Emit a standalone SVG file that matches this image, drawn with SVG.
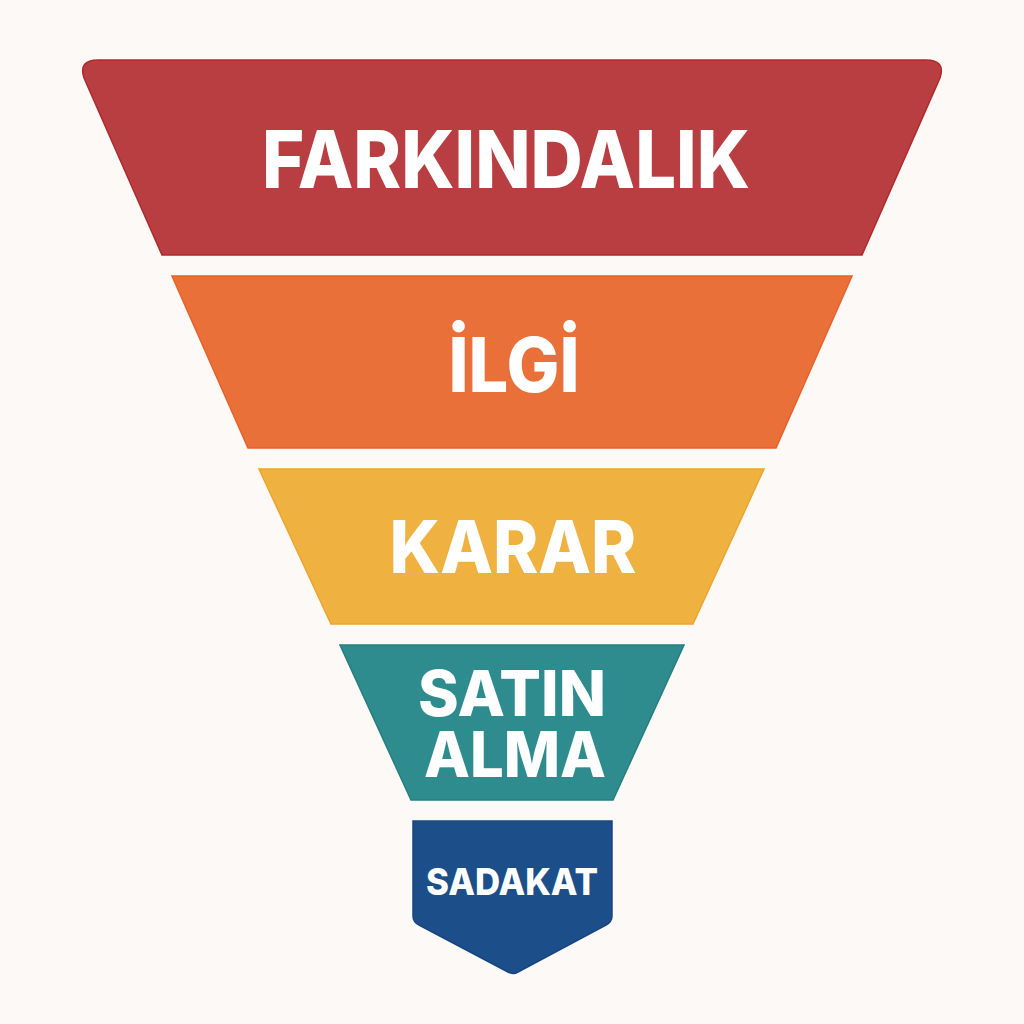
<svg xmlns="http://www.w3.org/2000/svg" width="1024" height="1024" viewBox="0 0 1024 1024">
<style>
.lbl{font-family:Inter,"Liberation Sans","DejaVu Sans",sans-serif;font-weight:800;fill:#FFFFFF;text-anchor:middle}
.s1{fill:#B83E41;stroke:#B02A2C;stroke-width:1.5}
.s2{fill:#EA703A;stroke:#E8602A;stroke-width:1.5}
.s3{fill:#EFB240;stroke:#EDA52E;stroke-width:1.5}
.s4{fill:#2F8C8E;stroke:#23807F;stroke-width:1.5}
.s5{fill:#1C4F8A;stroke:#174582;stroke-width:1.5}
</style>
<rect width="1024" height="1024" fill="#FDF9F6"/>
<g id="farkindalik">
<path class="s1" d="M98,60 L926,60 Q946,60 940,78 L862,255 L162,255 L84,78 Q78,60 98,60 Z"/>
<text class="lbl" x="506" y="188" font-size="80" textLength="488" lengthAdjust="spacingAndGlyphs">FARKINDALIK</text>
</g>
<g id="ilgi">
<polygon class="s2" points="172,276 852,276 776,448 248,448"/>
<text class="lbl" x="514" y="392" font-size="75" textLength="131" lengthAdjust="spacingAndGlyphs">İLGİ</text>
</g>
<g id="karar">
<polygon class="s3" points="259,469 764,469 693,624 331,624"/>
<text class="lbl" x="513" y="573" font-size="73" textLength="247" lengthAdjust="spacingAndGlyphs">KARAR</text>
</g>
<g id="satin-alma">
<polygon class="s4" points="340,645 684,645 613,800 411,800"/>
<text class="lbl" x="512" y="716" font-size="63" textLength="188" lengthAdjust="spacingAndGlyphs">SATIN</text>
<text class="lbl" x="515" y="777" font-size="63" textLength="182" lengthAdjust="spacingAndGlyphs">ALMA</text>
</g>
<g id="sadakat">
<path class="s5" d="M413,821 L612,821 L612,916 Q612,922 606,925 L518,972 Q513,975 508,972 L419,925 Q413,922 413,916 Z"/>
<text class="lbl" x="512" y="895" font-size="37" textLength="172" lengthAdjust="spacingAndGlyphs">SADAKAT</text>
</g>
<g id="connectors"/>
</svg>
